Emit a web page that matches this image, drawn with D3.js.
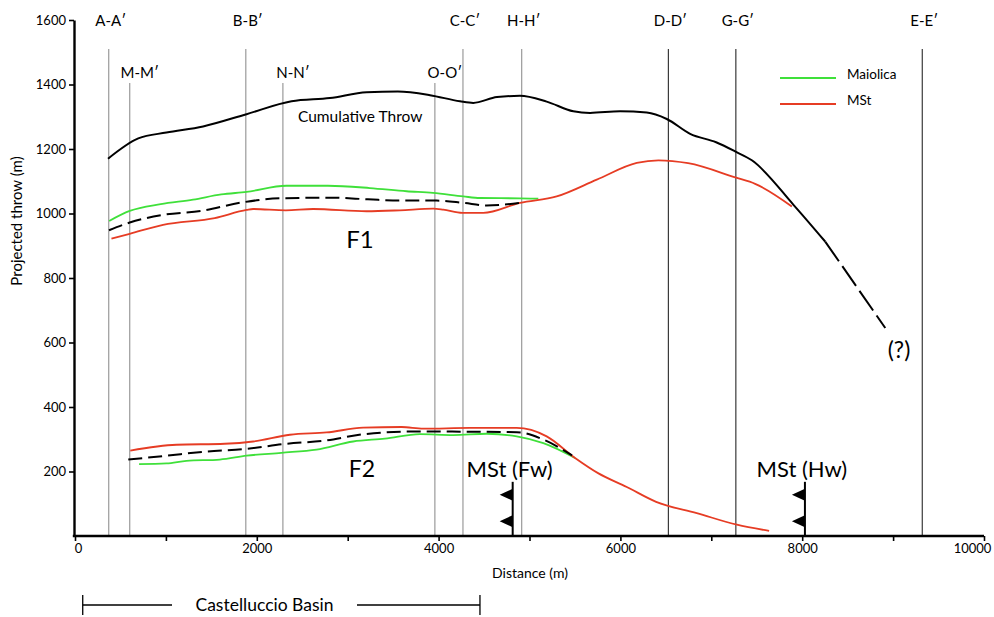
<!DOCTYPE html>
<html>
<head>
<meta charset="UTF-8">
<title>Projected throw along strike</title>
<style>
  body { margin: 0; background: #fff; }
  svg { display: block; font-family: "Lato", "Open Sans", sans-serif; }
</style>
</head>
<body>
<svg></svg>
<script src="https://d3js.org/d3.v7.min.js"></script>
<script>
    // cumulative throw (solid part, then the uncertain dashed tail)
    let cumDist = [363, 696, 1006, 1409, 1887, 2382, 2804, 3208, 3552, 3905, 4235, 4381, 4642, 4895, 5189, 5482, 5666, 5996, 6290, 6510, 6767, 7053, 7273, 7446, 7904, 8253];
    let cumThrow = [1170, 1233, 1251, 1270, 1308, 1348, 1358, 1376, 1378, 1367, 1348, 1343, 1361, 1365, 1347, 1317, 1312, 1317, 1313, 1293, 1247, 1221, 1191, 1165, 1027, 913];
    let cumTailDist = [8253, 8914];
    let cumTailThrow = [913, 645];

    // F1
    let f1MaiolicaDist = [376, 602, 943, 1299, 1609, 1887, 2325, 2782, 3244, 3648, 3938, 4271, 4455, 4895, 5097];
    let f1MaiolicaThrow = [977, 1008, 1029, 1043, 1059, 1067, 1086, 1086, 1079, 1069, 1064, 1053, 1048, 1047, 1046];
    let f1MeanDist = [374, 602, 969, 1389, 1830, 2253, 2822, 3222, 3574, 3978, 4271, 4529, 4895];
    let f1MeanThrow = [948, 972, 996, 1008, 1034, 1047, 1049, 1044, 1040, 1040, 1033, 1025, 1033];
    let f1MStDist = [401, 602, 969, 1538, 1887, 1959, 2319, 2620, 3208, 3574, 3941, 4051, 4262, 4491, 4895, 5299, 5740, 6180, 6418, 6745, 7273, 7482, 7886];
    let f1MStThrow = [922, 937, 965, 986, 1011, 1014, 1010, 1014, 1007, 1010, 1015, 1012, 1002, 1002, 1033, 1053, 1105, 1157, 1165, 1156, 1111, 1092, 1022];

    // F2
    let f2MaiolicaDist = [705, 1006, 1226, 1593, 1887, 2270, 2657, 3060, 3409, 3795, 4161, 4529, 4859, 5152, 5501];
    let f2MaiolicaThrow = [223, 225, 233, 237, 249, 258, 268, 293, 302, 316, 313, 317, 309, 288, 242];
    let f2MeanDist = [586, 1006, 1447, 1887, 2327, 2727, 3189, 3721, 4859, 5152, 5468];
    let f2MeanThrow = [237, 249, 262, 270, 286, 295, 316, 324, 322, 299, 250];
    let f2MStDist = [608, 1116, 1648, 1960, 2364, 2767, 3170, 3593, 3831, 4345, 4859, 5189, 5501, 5754, 6070, 6393, 6840, 7281, 7636];
    let f2MStThrow = [265, 283, 286, 293, 314, 321, 336, 338, 333, 335, 335, 309, 242, 195, 152, 106, 71, 35, 16];

    // cross sections
    let sectionNames = ["A-A′", "M-M′", "B-B′", "N-N′", "O-O′", "C-C′", "H-H′", "D-D′", "G-G′", "E-E′"];
    let sectionDist = [371, 602, 1879, 2287, 3959, 4268, 4914, 6528, 7270, 9321];
    let sectionRow = [0, 1, 0, 1, 1, 0, 0, 0, 0, 0];

    // MSt thrust traces (footwall / hangingwall)
    let thrustNames = ["MSt (Fw)", "MSt (Hw)"];
    let thrustDist = [4815, 8030];

    let basinName = "Castelluccio Basin";
    let basinDist = [85, 4455];

    let width = 994, height = 617;
    let green = "#3fe03a", red = "#e63c24";

    let svg = d3.select("svg")
        .attr("width", width)
        .attr("height", height);

    let x = d3.scaleLinear().domain([0, 10000]).range([75, 984]);
    let y = d3.scaleLinear().domain([0, 1600]).range([536, 20]);

    // section lines + labels
    sectionDist.forEach((d, i) => {
        let top = sectionRow[i] == 0 ? 49 : 83;
        let dark = d > 6000;
        svg.append("line")
            .attr("x1", x(d)).attr("x2", x(d))
            .attr("y1", top).attr("y2", y(0))
            .attr("stroke", dark ? "#3a3a3a" : "#9a9a9a")
            .attr("stroke-width", 1.2);
        svg.append("text")
            .attr("x", x(d) + (sectionRow[i] == 0 ? 2 : 10))
            .attr("y", sectionRow[i] == 0 ? 26 : 78)
            .attr("text-anchor", "middle")
            .style("font-size", "15px")
            .text(sectionNames[i]);
    });

    // axes
    let yAxis = d3.axisLeft(y)
        .tickValues([200, 400, 600, 800, 1000, 1200, 1400, 1600])
        .tickFormat(d3.format("d"))
        .tickSize(5).tickSizeOuter(0).tickPadding(3);
    let xAxis = d3.axisBottom(x)
        .tickValues(d3.range(0, 10001, 1000))
        .tickFormat(d => d % 2000 == 0 ? String(d) : "")
        .tickSize(5).tickSizeOuter(0).tickPadding(3);

    let gx = svg.append("g")
        .attr("transform", "translate(0," + y(0) + ")")
        .call(xAxis);
    let gy = svg.append("g")
        .attr("transform", "translate(" + (x(0) - 1) + ",0)")
        .call(yAxis);
    [gx, gy].forEach(g => {
        g.select(".domain").attr("stroke-width", 2.4);
        g.selectAll(".tick line").attr("stroke-width", 1.6);
        g.selectAll("text").style("font-size", "13px").style("font-family", "Lato, sans-serif");
    });
    gx.select(".domain").attr("d", "M" + (x(0) - 2.2) + ",0H" + x(10000));
    gx.selectAll(".tick text").filter(d => d == 10000).attr("dx", "-12");
    gx.selectAll(".tick text").filter(d => d == 0).attr("dx", "3");

    svg.append("text")
        .attr("transform", "translate(22," + 221 + ") rotate(-90)")
        .attr("text-anchor", "middle")
        .style("font-size", "15px")
        .text("Projected throw (m)");
    svg.append("text")
        .attr("x", 530).attr("y", 578)
        .attr("text-anchor", "middle")
        .style("font-size", "14px")
        .text("Distance (m)");

    // curves
    let line = d3.line()
        .x(d => x(d[0]))
        .y(d => y(d[1]))
        .curve(d3.curveMonotoneX);

    function drawSeries(dist, vals, color, dash, w) {
        svg.append("path")
            .datum(d3.zip(dist, vals))
            .attr("d", line)
            .attr("fill", "none")
            .attr("stroke", color)
            .attr("stroke-width", w || 1.8)
            .attr("stroke-dasharray", dash || null);
    }

    drawSeries(cumDist, cumThrow, "#000", null, 2);
    drawSeries(cumTailDist, cumTailThrow, "#000", "24,6", 2);

    drawSeries(f1MaiolicaDist, f1MaiolicaThrow, green);
    drawSeries(f1MStDist, f1MStThrow, red);
    drawSeries(f1MeanDist, f1MeanThrow, "#000", "14,6", 2);

    drawSeries(f2MaiolicaDist, f2MaiolicaThrow, green);
    drawSeries(f2MStDist, f2MStThrow, red);
    drawSeries(f2MeanDist, f2MeanThrow, "#000", "14,6", 2);

    // thrust symbols
    thrustDist.forEach((d, i) => {
        let xs = x(d);
        svg.append("line")
            .attr("x1", xs).attr("x2", xs)
            .attr("y1", y(0)).attr("y2", y(168))
            .attr("stroke", "#000").attr("stroke-width", 2);
        [128, 46].forEach(v => {
            let yc = y(v);
            svg.append("path")
                .attr("d", "M" + xs + "," + (yc - 6) + "L" + (xs - 13) + "," + yc + "L" + xs + "," + (yc + 6) + "Z")
                .attr("fill", "#000");
        });
        svg.append("text")
            .attr("x", xs - 3).attr("y", y(168) - 5)
            .attr("text-anchor", "middle")
            .style("font-size", "22px")
            .text(thrustNames[i]);
    });

    // annotations
    svg.append("text").attr("x", 298).attr("y", 122)
        .style("font-size", "15.5px").text("Cumulative Throw");
    svg.append("text").attr("x", 360).attr("y", 248)
        .attr("text-anchor", "middle").style("font-size", "24px").text("F1");
    svg.append("text").attr("x", 362).attr("y", 477)
        .attr("text-anchor", "middle").style("font-size", "23px").text("F2");
    svg.append("text").attr("x", 899).attr("y", 358)
        .attr("text-anchor", "middle").style("font-size", "23px").text("(?)");

    // legend
    let legend = svg.append("g").attr("transform", "translate(780,78)");
    [["Maiolica", green], ["MSt", red]].forEach((d, i) => {
        legend.append("line")
            .attr("x1", 0).attr("x2", 56)
            .attr("y1", i * 26).attr("y2", i * 26)
            .attr("stroke", d[1]).attr("stroke-width", 1.8);
        legend.append("text")
            .attr("x", 67).attr("y", i * 26 + 1)
            .style("font-size", "13.5px")
            .text(d[0]);
    });

    // basin extent bracket
    let by = 605;
    let bx0 = x(basinDist[0]), bx1 = x(basinDist[1]);
    let bracket = svg.append("g").attr("stroke", "#000").attr("stroke-width", 1.3);
    bracket.append("line").attr("x1", bx0).attr("x2", bx0).attr("y1", by - 10).attr("y2", by + 10);
    bracket.append("line").attr("x1", bx1).attr("x2", bx1).attr("y1", by - 10).attr("y2", by + 10);
    bracket.append("line").attr("x1", bx0).attr("x2", 172).attr("y1", by).attr("y2", by);
    bracket.append("line").attr("x1", 357).attr("x2", bx1).attr("y1", by).attr("y2", by);
    svg.append("text").attr("x", (172 + 357) / 2).attr("y", by + 6)
        .attr("text-anchor", "middle").style("font-size", "17.5px").text(basinName);
</script>
</body>
</html>
